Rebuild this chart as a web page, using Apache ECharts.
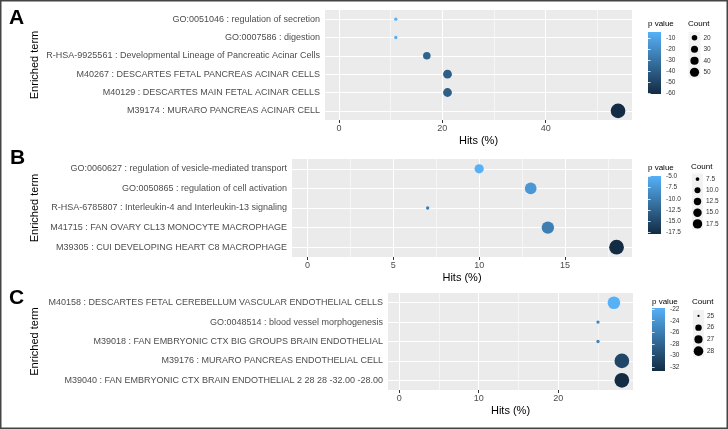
<!DOCTYPE html>
<html><head><meta charset="utf-8">
<script src="https://cdn.jsdelivr.net/npm/echarts@6/dist/echarts.min.js"></script>
<style>html,body{margin:0;padding:0;background:#fff}#c{width:728px;height:429px}</style>
</head><body><div id="c"></div>
<script>
// ---------- DATA ----------
const termsA = ['GO:0051046 : regulation of secretion','GO:0007586 : digestion','R-HSA-9925561 : Developmental Lineage of Pancreatic Acinar Cells','M40267 : DESCARTES FETAL PANCREAS ACINAR CELLS','M40129 : DESCARTES MAIN FETAL ACINAR CELLS','M39174 : MURARO PANCREAS ACINAR CELL'];
const hitsA = [11, 11, 17, 21, 21, 54];
const countA = [11, 11, 17, 21, 21, 54];
const pA = [-4.6, -5.5, -37, -39, -39, -60.5];
const xMajorA = [0, 20, 40];
const xMinorA = [10, 30, 50];
const pTicksA = [-10, -20, -30, -40, -50, -60];
const sizeBreaksA = [20, 30, 40, 50];

const termsB = ['GO:0060627 : regulation of vesicle-mediated transport','GO:0050865 : regulation of cell activation','R-HSA-6785807 : Interleukin-4 and Interleukin-13 signaling','M41715 : FAN OVARY CL13 MONOCYTE MACROPHAGE','M39305 : CUI DEVELOPING HEART C8 MACROPHAGE'];
const hitsB = [10, 13, 7, 14, 18];
const countB = [10, 13, 7, 14, 18];
const pB = [-4.9, -7.4, -10, -9.8, -17.9];
const xMajorB = [0, 5, 10, 15];
const xMinorB = [2.5, 7.5, 12.5, 17.5];
const pTicksB = [-5, -7.5, -10, -12.5, -15, -17.5];
const sizeBreaksB = [7.5, 10, 12.5, 15, 17.5];

const termsC = ['M40158 : DESCARTES FETAL CEREBELLUM VASCULAR ENDOTHELIAL CELLS','GO:0048514 : blood vessel morphogenesis','M39018 : FAN EMBRYONIC CTX BIG GROUPS BRAIN ENDOTHELIAL','M39176 : MURARO PANCREAS ENDOTHELIAL CELL','M39040 : FAN EMBRYONIC CTX BRAIN ENDOTHELIAL 2 28 28 -32.00 -28.00'];
const hitsC = [27, 25, 25, 28, 28];
const countC = [27, 25, 25, 28, 28];
const pC = [-21.8, -25.5, -25.5, -30.5, -32.7];
const xMajorC = [0, 10, 20];
const xMinorC = [5, 15, 25];
const pTicksC = [-22, -24, -26, -28, -30, -32];
const sizeBreaksC = [25, 26, 27, 28];

// ---------- STYLE / LAYOUT ----------
const FONT = "'Liberation Sans', Arial, Helvetica, sans-serif";
const LOW = '#132B43', HIGH = '#56B1F7';

const panels = [
  {letter:'A', terms:termsA, hits:hitsA, counts:countA, p:pA, xMajor:xMajorA, xMinor:xMinorA, pTicks:pTicksA, pDec:0, sizeBreaks:sizeBreaksA, sDec:0,
   L:{grid:{left:325, top:10, width:307, height:110}, yNameGap:284.5,
      cbar:{left:648, top:32, width:13, height:62}, pTitle:{left:648, top:20}, cTitle:{left:688, top:20},
      keys:{left:688.5, top:32, width:12, height:46}, letterPos:{left:9, top:8}}},
  {letter:'B', terms:termsB, hits:hitsB, counts:countB, p:pB, xMajor:xMajorB, xMinor:xMinorB, pTicks:pTicksB, pDec:1, sizeBreaks:sizeBreaksB, sDec:1,
   L:{grid:{left:292, top:159, width:340, height:98}, yNameGap:252,
      cbar:{left:648, top:176, width:13, height:58}, pTitle:{left:648, top:164}, cTitle:{left:691, top:163},
      keys:{left:692, top:173.5, width:11, height:56}, letterPos:{left:10, top:148}}},
  {letter:'C', terms:termsC, hits:hitsC, counts:countC, p:pC, xMajor:xMajorC, xMinor:xMinorC, pTicks:pTicksC, pDec:0, sizeBreaks:sizeBreaksC, sDec:0,
   L:{grid:{left:388, top:293, width:245, height:97}, yNameGap:348,
      cbar:{left:652, top:308, width:13, height:63}, pTitle:{left:652, top:298}, cTitle:{left:692, top:298},
      keys:{left:693, top:310, width:11, height:47}, letterPos:{left:9, top:288}}}
];

const option = {
  animation: false,
  backgroundColor: '#ffffff',
  textStyle: {fontFamily: FONT},
  title: [], grid: [], xAxis: [], yAxis: [], series: [], visualMap: [],
  graphic: [{type:'rect', shape:{x:0.75, y:0.75, width:726.5, height:427.5}, style:{fill:'none', stroke:'#444', lineWidth:1.5}, silent:true, z:100}]
};

function sizeFn(cmin, cmax) {
  return c => 3.3 + 11.4 * Math.sqrt(Math.max(0, (c - cmin) / (cmax - cmin)));
}

// main grids (0..2)
panels.forEach((P, i) => {
  const L = P.L;
  const hmax = Math.max(...P.hits);
  const cmin = Math.min(...P.counts), cmax = Math.max(...P.counts);
  const pmin = Math.min(...P.p), pmax = Math.max(...P.p);
  P.sz = sizeFn(cmin, cmax); P.pmin = pmin; P.pmax = pmax;
  option.grid.push(Object.assign({show:true, backgroundColor:'#ebebeb', borderWidth:0, containLabel:false, outerBoundsMode:'none'}, L.grid));
  option.xAxis.push({
    gridIndex:i, type:'value', min:-0.05*hmax, max:1.05*hmax,
    name:'Hits (%)', nameLocation:'middle', nameGap:15,
    nameTextStyle:{fontSize:11, color:'#000', fontFamily:FONT},
    axisLine:{show:false}, splitLine:{show:false},
    axisTick:{show:true, length:3, lineStyle:{color:'#333', width:1}, customValues:P.xMajor},
    axisLabel:{fontSize:9, color:'#4d4d4d', margin:4, fontFamily:FONT, customValues:P.xMajor}
  });
  option.yAxis.push({
    gridIndex:i, type:'category', data:P.terms, inverse:true,
    name:'Enriched term', nameLocation:'middle', nameGap:L.yNameGap,
    nameTextStyle:{fontSize:11, color:'#000', fontFamily:FONT},
    axisLine:{show:false}, splitLine:{show:false},
    axisTick:{show:true, alignWithLabel:true, length:3, lineStyle:{color:'#333', width:1}},
    axisLabel:{fontSize:9, color:'#4d4d4d', margin:5, fontFamily:FONT}
  });
  option.title.push({text:P.letter, left:L.letterPos.left, top:L.letterPos.top, padding:0,
    textStyle:{fontSize:21, fontWeight:'bold', color:'#000', fontFamily:FONT}});
  option.title.push({text:'p value', left:L.pTitle.left, top:L.pTitle.top, padding:0,
    textStyle:{fontSize:8, fontWeight:'normal', color:'#000', fontFamily:FONT}});
  option.title.push({text:'Count', left:L.cTitle.left, top:L.cTitle.top, padding:0,
    textStyle:{fontSize:8, fontWeight:'normal', color:'#000', fontFamily:FONT}});
});

// data series (0..2)
panels.forEach((P, i) => {
  const lines = [];
  P.xMajor.forEach(v => lines.push({xAxis:v, lineStyle:{color:'#fff', width:1.1, type:'solid'}}));
  P.xMinor.forEach(v => lines.push({xAxis:v, lineStyle:{color:'#fff', width:0.55, type:'solid'}}));
  P.terms.forEach(t => lines.push({yAxis:t, lineStyle:{color:'#fff', width:1.1, type:'solid'}}));
  option.series.push({
    type:'scatter', xAxisIndex:i, yAxisIndex:i, z:10,
    data: P.terms.map((t, k) => [P.hits[k], t, P.counts[k], P.p[k]]),
    encode:{x:0, y:1},
    symbolSize: v => P.sz(v[2]),
    itemStyle:{opacity:1, borderWidth:0},
    emphasis:{disabled:true},
    markLine:{silent:true, z:1, symbol:['none','none'], label:{show:false}, animation:false, data:lines}
  });
  option.visualMap.push({type:'continuous', show:false, seriesIndex:i, dimension:3,
    min:P.pmin, max:P.pmax, inRange:{color:[LOW, HIGH]}});
});

// colorbar grids (3..5)
panels.forEach((P, i) => {
  const C = P.L.cbar;
  const gi = 3 + i;
  option.grid.push(Object.assign({show:true, borderWidth:0, containLabel:false, outerBoundsMode:'none',
    backgroundColor:{type:'linear', x:0, y:0, x2:0, y2:1, colorStops:[{offset:0, color:HIGH},{offset:1, color:LOW}]}}, C));
  option.xAxis.push({gridIndex:gi, type:'value', show:false, min:0, max:1});
  option.yAxis.push({gridIndex:gi, type:'value', position:'right', min:P.pmin, max:P.pmax,
    axisLine:{show:false}, splitLine:{show:false},
    axisTick:{show:true, inside:true, length:2.6, lineStyle:{color:'#fff', width:0.8}, customValues:P.pTicks},
    axisLabel:{fontSize:6.5, color:'#333', margin:5, fontFamily:FONT, customValues:P.pTicks, formatter: v => Number(v).toFixed(P.pDec)}});
});
panels.forEach((P, i) => {
  const gi = 3 + i;
  option.yAxis.push({gridIndex:gi, type:'value', position:'left', min:P.pmin, max:P.pmax,
    axisLine:{show:false}, splitLine:{show:false}, axisLabel:{show:false},
    axisTick:{show:true, inside:true, length:2.6, lineStyle:{color:'#fff', width:0.8}, customValues:P.pTicks}});
});

// size-key grids (6..8)
panels.forEach((P, i) => {
  const K = P.L.keys;
  const gi = 6 + i;
  const labels = P.sizeBreaks.map(b => b.toFixed(P.sDec));
  option.grid.push(Object.assign({show:true, backgroundColor:'#f2f2f2', borderWidth:0, containLabel:false, outerBoundsMode:'none'}, K));
  option.xAxis.push({gridIndex:gi, type:'value', show:false, min:-1, max:1});
  option.yAxis.push({gridIndex:gi, type:'category', data:labels, inverse:true, position:'right',
    axisLine:{show:false}, axisTick:{show:false}, splitLine:{show:false},
    axisLabel:{fontSize:6.5, color:'#333', margin:3, fontFamily:FONT}});
  const yIdx = option.yAxis.length - 1;
  option.series.push({
    type:'scatter', xAxisIndex:option.xAxis.length - 1, yAxisIndex:yIdx, z:10,
    data: P.sizeBreaks.map((b, k) => [0, labels[k], b]),
    encode:{x:0, y:1},
    symbolSize: v => 0.65 * P.sz(v[2]),
    itemStyle:{color:'#000', opacity:1},
    emphasis:{disabled:true}
  });
});

const chart = echarts.init(document.getElementById('c'), null, {renderer:'canvas'});
chart.setOption(option);
</script>
</body></html>
